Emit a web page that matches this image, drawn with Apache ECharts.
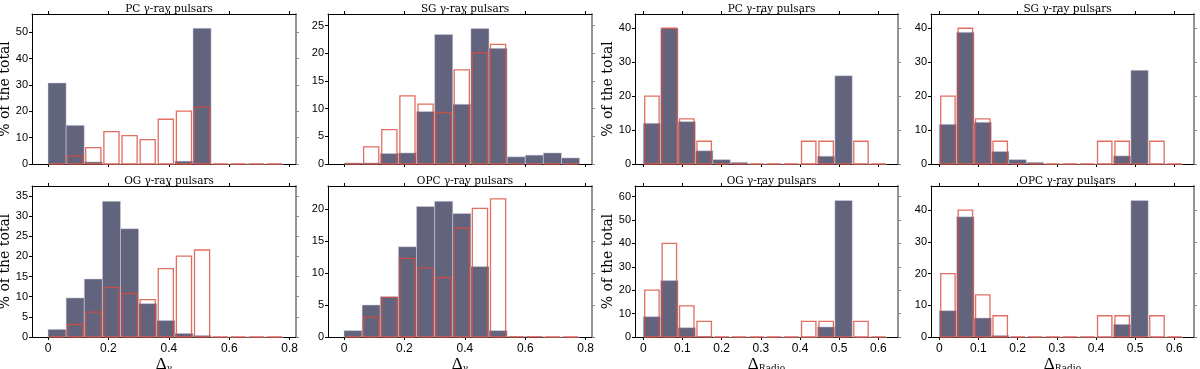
<!DOCTYPE html>
<html>
<head>
<meta charset="utf-8">
<script src="https://cdn.jsdelivr.net/npm/echarts@6/dist/echarts.min.js"></script>
<style>
  html, body { margin: 0; padding: 0; background: #fff; }
  #chart { width: 1200px; height: 369px; }
</style>
</head>
<body>
<div id="chart"></div>
<script>
// bin edges
var gammaEdges = [0, 0.06, 0.12, 0.18, 0.24, 0.30, 0.36, 0.42, 0.48, 0.54, 0.60, 0.66, 0.72, 0.78];
var radioEdges = [0, 0.0444, 0.0889, 0.1333, 0.1778, 0.2222, 0.2667, 0.3111, 0.3556, 0.4, 0.4444, 0.4889, 0.5333, 0.5778, 0.6222];

// model histograms (% of the total), Δγ
var pcGamma  = [30.8, 14.7, 0.8, 0, 0, 0, 0, 1.1, 51.6, 0, 0, 0, 0];
var sgGamma  = [0.2, 0.2, 1.9, 2.0, 9.5, 23.4, 10.8, 24.5, 20.9, 1.3, 1.6, 2.0, 1.1];
var ogGamma  = [1.9, 9.7, 14.4, 33.7, 26.9, 8.3, 4.1, 0.9, 0.4, 0, 0, 0, 0];
var opcGamma = [1.0, 5.0, 6.3, 14.1, 20.4, 21.2, 19.3, 11.0, 1.0, 0.1, 0.1, 0, 0];
// observed, Δγ
var obsGamma = [0, 3.1, 6.2, 12.3, 10.8, 9.3, 17.0, 20.1, 21.6, 0, 0, 0, 0];

// model histograms, ΔRadio
var pcRadio  = [12.0, 40.0, 12.5, 3.9, 1.3, 0.5, 0, 0, 0, 0, 2.3, 26.0, 0, 0];
var sgRadio  = [11.7, 38.8, 12.3, 3.7, 1.3, 0.5, 0, 0, 0, 0, 2.4, 27.6, 0, 0];
var ogRadio  = [8.7, 24.1, 4.0, 0.3, 0, 0, 0, 0, 0, 0, 4.3, 58.3, 0, 0];
var opcRadio = [8.3, 37.9, 6.0, 0.5, 0, 0, 0, 0, 0, 0, 4.0, 43.0, 0, 0];
// observed, ΔRadio
var obsRadio = [20.0, 40.0, 13.3, 6.7, 0, 0, 0, 0, 0, 6.7, 6.7, 0, 6.7, 0];

// tick values
var gammaTicks = [0, 0.2, 0.4, 0.6, 0.8];
var radioTicks = [0, 0.1, 0.2, 0.3, 0.4, 0.5, 0.6];

var titles = ['PC γ-ray pulsars', 'SG γ-ray pulsars', 'OG γ-ray pulsars', 'OPC γ-ray pulsars',
              'PC γ-ray pulsars', 'SG γ-ray pulsars', 'OG γ-ray pulsars', 'OPC γ-ray pulsars'];

var DARK = '#62637d';
var RED = '#dc4a3a';

// panel layout: left, top, width, height
var panels = [
  { box: [32, 14, 264, 150], model: pcGamma, obs: obsGamma, edges: gammaEdges, xr: [-0.053, 0.821], ticks: gammaTicks, ymax: 57, yticks: [0, 10, 20, 30, 40, 50], bottom: false, yname: true },
  { box: [328, 14, 264, 150], model: sgGamma, obs: obsGamma, edges: gammaEdges, xr: [-0.053, 0.821], ticks: gammaTicks, ymax: 27.1, yticks: [0, 5, 10, 15, 20, 25], bottom: false, yname: false },
  { box: [32, 186, 264, 151], model: ogGamma, obs: obsGamma, edges: gammaEdges, xr: [-0.053, 0.821], ticks: gammaTicks, ymax: 37.5, yticks: [0, 5, 10, 15, 20, 25, 30, 35], bottom: true, yname: true },
  { box: [328, 186, 264, 151], model: opcGamma, obs: obsGamma, edges: gammaEdges, xr: [-0.053, 0.821], ticks: gammaTicks, ymax: 23.6, yticks: [0, 5, 10, 15, 20], bottom: true, yname: false },
  { box: [635, 14, 263, 150], model: pcRadio, obs: obsRadio, edges: radioEdges, xr: [-0.021, 0.650], ticks: radioTicks, ymax: 44.2, yticks: [0, 10, 20, 30, 40], bottom: false, yname: true },
  { box: [931, 14, 263, 150], model: sgRadio, obs: obsRadio, edges: radioEdges, xr: [-0.021, 0.650], ticks: radioTicks, ymax: 44.2, yticks: [0, 10, 20, 30, 40], bottom: false, yname: false },
  { box: [635, 186, 263, 151], model: ogRadio, obs: obsRadio, edges: radioEdges, xr: [-0.021, 0.650], ticks: radioTicks, ymax: 64.5, yticks: [0, 10, 20, 30, 40, 50, 60], bottom: true, yname: true },
  { box: [931, 186, 263, 151], model: opcRadio, obs: obsRadio, edges: radioEdges, xr: [-0.021, 0.650], ticks: radioTicks, ymax: 47.6, yticks: [0, 10, 20, 30, 40], bottom: true, yname: false }
];

function toBins(edges, values) {
  return values.map(function (v, i) { return [edges[i], edges[i + 1], v]; });
}

function renderModel(params, api) {
  var p0 = api.coord([api.value(0), 0]);
  var p1 = api.coord([api.value(1), api.value(2)]);
  return {
    type: 'rect',
    shape: { x: p0[0], y: p1[1], width: p1[0] - p0[0], height: p0[1] - p1[1] },
    style: { fill: DARK, stroke: 'rgba(215,215,228,0.7)', lineWidth: 0.7 }
  };
}

function renderObs(params, api) {
  var p0 = api.coord([api.value(0), 0]);
  var p1 = api.coord([api.value(1), api.value(2)]);
  return {
    type: 'rect',
    shape: { x: p0[0] + 1.5, y: p1[1], width: p1[0] - p0[0] - 3, height: p0[1] - p1[1] },
    style: { fill: 'none', stroke: RED, lineWidth: 1.3, opacity: 0.8 }
  };
}

var option = {
  backgroundColor: '#fff',
  animation: false,
  title: [],
  grid: [],
  xAxis: [],
  yAxis: [],
  series: []
};

panels.forEach(function (p, i) {
  var b = p.box;
  var isGamma = p.edges === gammaEdges;
  option.grid.push({ left: b[0], top: b[1], width: b[2], height: b[3], outerBoundsMode: 'none' });
  option.title.push({
    text: titles[i],
    left: b[0] + b[2] / 2,
    top: b[1] - 15,
    textAlign: 'center',
    textStyle: { fontFamily: 'DejaVu Serif', fontSize: 10.5, fontWeight: 'normal', color: '#000' }
  });

  // bottom x axis
  option.xAxis.push({
    type: 'value', gridIndex: i, position: 'bottom', min: p.xr[0], max: p.xr[1],
    splitLine: { show: false },
    axisLine: { onZero: false, lineStyle: { color: '#000', width: 1.2 } },
    axisTick: { inside: false, length: 3, customValues: p.ticks, lineStyle: { color: '#000' } },
    axisLabel: { show: p.bottom, customValues: p.ticks, margin: 6, fontFamily: 'Liberation Sans', fontSize: 12, color: '#000' },
    name: p.bottom ? (isGamma ? '{d|Δ}{s|γ}' : '{d|Δ}{s|Radio}') : '',
    nameLocation: 'middle',
    nameGap: 10,
    nameTextStyle: {
      rich: {
        d: { fontFamily: 'Liberation Serif', fontSize: 17, color: '#000' },
        s: { fontFamily: 'DejaVu Serif', fontSize: 9, color: '#000', padding: [8, 0, 0, 0] }
      }
    }
  });
  // top x axis (ticks only)
  option.xAxis.push({
    type: 'value', gridIndex: i, position: 'top', min: p.xr[0], max: p.xr[1],
    splitLine: { show: false },
    axisLine: { onZero: false, lineStyle: { color: '#000', width: 1 } },
    axisTick: { inside: false, length: 3, customValues: p.ticks, lineStyle: { color: '#000' } },
    axisLabel: { show: false }
  });

  // left y axis
  option.yAxis.push({
    type: 'value', gridIndex: i, position: 'left', min: 0, max: p.ymax,
    splitLine: { show: false },
    axisLine: { show: true, onZero: false, lineStyle: { color: '#000', width: 1 } },
    axisTick: { show: true, inside: false, length: 3, customValues: p.yticks, lineStyle: { color: '#000' } },
    axisLabel: { customValues: p.yticks, margin: 4, fontFamily: 'Liberation Sans', fontSize: 11, color: '#000' },
    name: p.yname ? '% of the total' : '',
    nameLocation: 'middle',
    nameGap: 17,
    nameTextStyle: { fontFamily: 'DejaVu Serif', fontSize: 14, color: '#000' }
  });
  // right y axis (ticks only)
  option.yAxis.push({
    type: 'value', gridIndex: i, position: 'right', min: 0, max: p.ymax,
    splitLine: { show: false },
    axisLine: { show: true, onZero: false, lineStyle: { color: '#888', width: 1.8 } },
    axisTick: { show: true, inside: false, length: 3, customValues: p.yticks, lineStyle: { color: '#888' } },
    axisLabel: { show: false }
  });

  option.series.push({
    type: 'custom', xAxisIndex: 2 * i, yAxisIndex: 2 * i,
    renderItem: renderModel,
    encode: { x: [0, 1], y: 2 },
    data: toBins(p.edges, p.model),
    z: 2
  });
  option.series.push({
    type: 'custom', xAxisIndex: 2 * i, yAxisIndex: 2 * i,
    renderItem: renderObs,
    encode: { x: [0, 1], y: 2 },
    data: toBins(p.edges, p.obs),
    z: 3
  });
});

var myChart = echarts.init(document.getElementById('chart'), null, { renderer: 'canvas' });
myChart.setOption(option);

window.addEventListener('resize', function () {
  myChart.resize();
});
</script>
</body>
</html>
